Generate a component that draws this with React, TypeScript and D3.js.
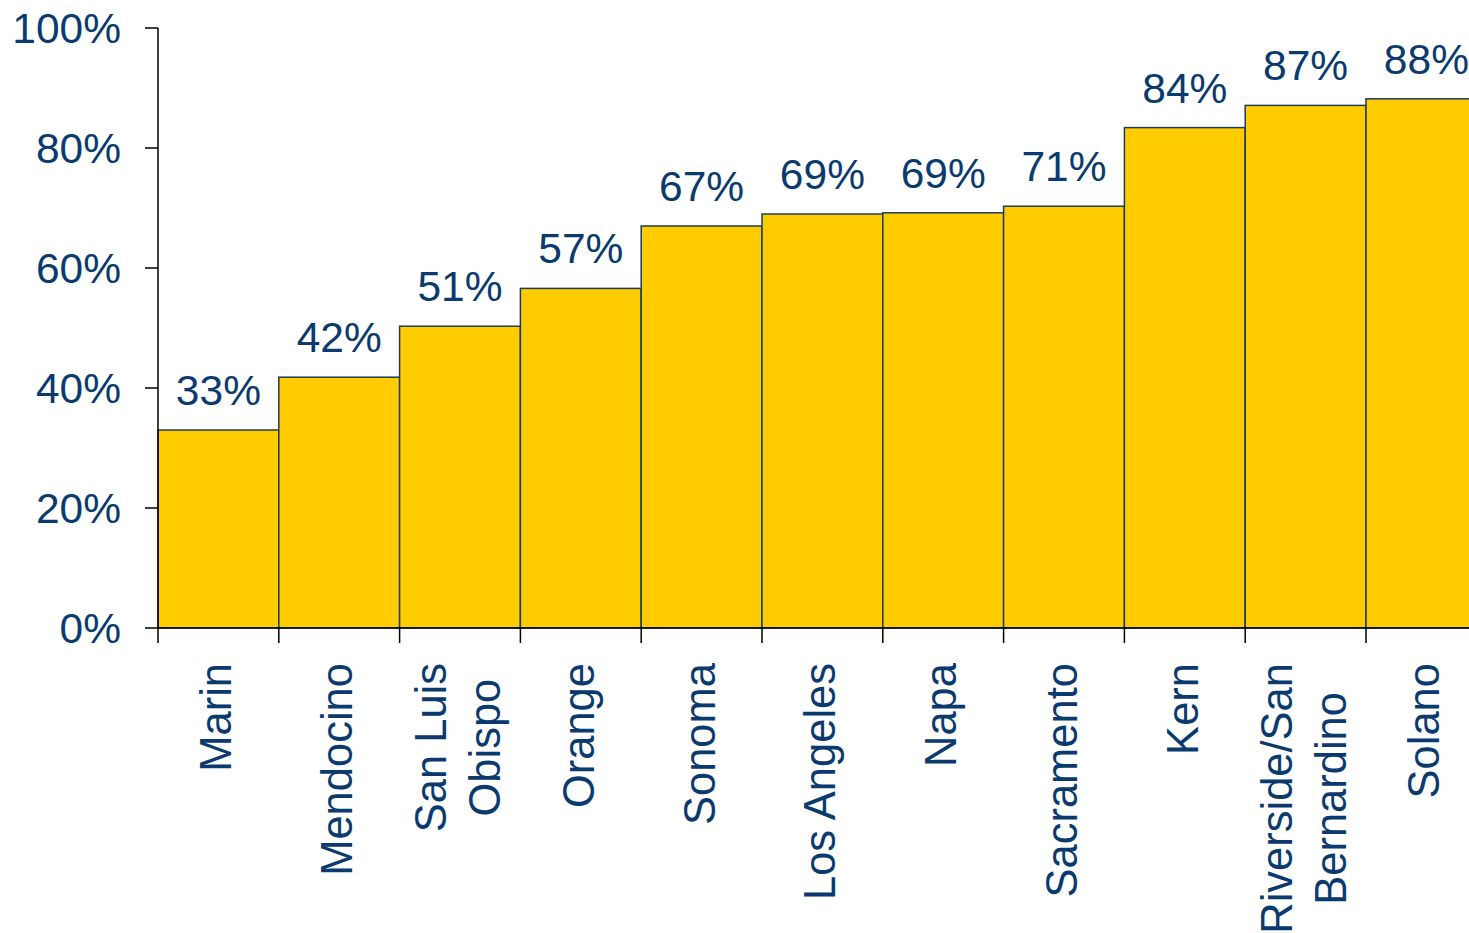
import React, { useEffect, useRef } from "react";
import * as d3 from "d3";

const categories: string[][] = [
  ["Marin"],
  ["Mendocino"],
  ["San Luis", "Obispo"],
  ["Orange"],
  ["Sonoma"],
  ["Los Angeles"],
  ["Napa"],
  ["Sacramento"],
  ["Kern"],
  ["Riverside/San", "Bernardino"],
  ["Solano"],
];
const values: number[] = [33.0, 41.8, 50.3, 56.6, 67.0, 69.0, 69.2, 70.3, 83.4, 87.1, 88.2];
const valueLabels: string[] = ["33%", "42%", "51%", "57%", "67%", "69%", "69%", "71%", "84%", "87%", "88%"];
const yTicks: number[] = [0, 20, 40, 60, 80, 100];

const W = 1469;
const H = 933;
const TEXT = "#0b3a6e";
const FONT = "'Liberation Sans', Arial, sans-serif";

export default function App() {
  const ref = useRef<SVGSVGElement | null>(null);

  useEffect(() => {
    const svg = d3.select(ref.current);
    svg.selectAll("*").remove();

    const left = 158;
    const bandW = 120.8;
    const x = d3
      .scaleBand<number>()
      .domain(d3.range(categories.length))
      .range([left, left + bandW * categories.length])
      .padding(0);
    const y = d3.scaleLinear().domain([0, 100]).range([628, 28]);

    const g = svg.append("g");

    // bars
    g.selectAll("rect.bar")
      .data(values)
      .join("rect")
      .attr("class", "bar")
      .attr("x", (_, i) => x(i)!)
      .attr("y", (d) => y(d))
      .attr("width", x.bandwidth())
      .attr("height", (d) => y(0) - y(d))
      .attr("fill", "#FFCC00")
      .attr("stroke", "#1d3b5f")
      .attr("stroke-width", 1.5);

    // y axis line
    g.append("line")
      .attr("x1", left)
      .attr("x2", left)
      .attr("y1", y(100))
      .attr("y2", y(0))
      .attr("stroke", "#000")
      .attr("stroke-width", 1.5);

    // x axis line
    g.append("line")
      .attr("x1", left)
      .attr("x2", W)
      .attr("y1", y(0))
      .attr("y2", y(0))
      .attr("stroke", "#000")
      .attr("stroke-width", 1.5);

    // y ticks
    const yt = g.selectAll("g.ytick").data(yTicks).join("g").attr("class", "ytick");
    yt.append("line")
      .attr("x1", 145)
      .attr("x2", left)
      .attr("y1", (d) => y(d))
      .attr("y2", (d) => y(d))
      .attr("stroke", "#000")
      .attr("stroke-width", 1.5);
    yt.append("text")
      .attr("x", 121)
      .attr("y", (d) => y(d) + 15)
      .attr("text-anchor", "end")
      .attr("font-family", FONT)
      .attr("font-size", 42.5)
      .attr("fill", TEXT)
      .text((d) => `${d}%`);

    // x ticks at band boundaries
    const bounds = d3.range(categories.length + 1).map((i) => left + i * x.bandwidth());
    g.selectAll("line.xtick")
      .data(bounds)
      .join("line")
      .attr("class", "xtick")
      .attr("x1", (d) => d)
      .attr("x2", (d) => d)
      .attr("y1", y(0))
      .attr("y2", y(0) + 15)
      .attr("stroke", "#000")
      .attr("stroke-width", 1.5);

    // value labels
    g.selectAll("text.val")
      .data(values)
      .join("text")
      .attr("class", "val")
      .attr("x", (_, i) => x(i)! + x.bandwidth() / 2)
      .attr("y", (d) => y(d) - 25)
      .attr("text-anchor", "middle")
      .attr("font-family", FONT)
      .attr("font-size", 42.5)
      .attr("fill", TEXT)
      .text((_, i) => valueLabels[i]);

    // category labels (rotated)
    const topY = 663;
    const lineGap = 54;
    categories.forEach((lines, i) => {
      const cx = x(i)! + x.bandwidth() / 2;
      const texts = lines.map((l) =>
        g
          .append("text")
          .attr("font-family", FONT)
          .attr("font-size", 43.5)
          .attr("fill", TEXT)
          .attr("text-anchor", "middle")
          .text(l)
      );
      const maxLen = d3.max(texts, (t) => (t.node() as SVGTextElement).getComputedTextLength()) || 0;
      const midY = topY + maxLen / 2;
      const n = lines.length;
      texts.forEach((t, j) => {
        const lx = cx + (j - (n - 1) / 2) * lineGap + 13;
        t.attr("transform", `translate(${lx},${midY}) rotate(-90)`);
      });
    });
  }, []);

  return (
    <svg
      ref={ref}
      width={W}
      height={H}
      style={{ position: "absolute", left: 0, top: 0, background: "#fff" }}
    />
  );
}
